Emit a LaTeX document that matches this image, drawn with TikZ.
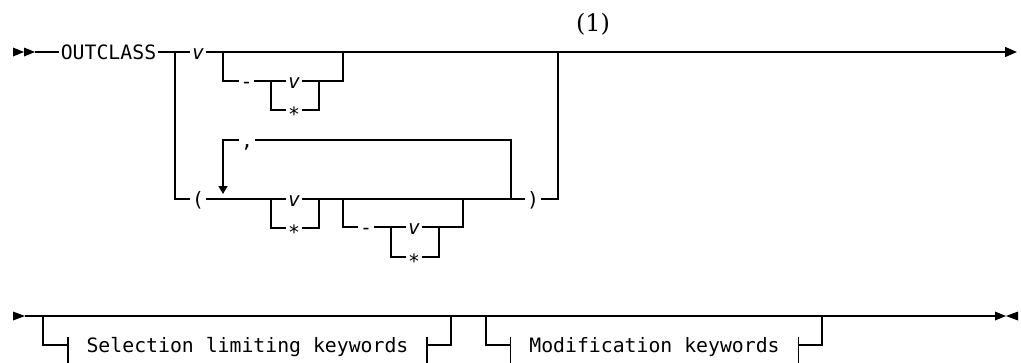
\documentclass[tikz,border=0pt]{standalone}
\usepackage{fontspec}
\setmonofont{DejaVu Sans Mono}
\newfontfamily\notefont{DejaVu Serif}
\usetikzlibrary{arrows.meta}
\tikzset{
  rail/.style={line width=1.4pt},
  tok/.style={font=\ttfamily\fontsize{19.8}{20}\selectfont, inner xsep=1.5pt, inner ysep=0pt, text height=14.4pt, text depth=0pt},
  var/.style={tok, font=\ttfamily\itshape\fontsize{19.8}{20}\selectfont},
  frag/.style={tok, inner xsep=18.5pt},
  endtip/.style={-{Triangle[length=12pt,width=10pt]}},
  looptip/.style={-{Triangle[length=8pt,width=9pt]}},
  notestyle/.style={font=\notefont\fontsize{24}{26}\selectfont, inner sep=0pt}
}
\newcommand{\railstar}{\raisebox{-4.5pt}{*}}
\begin{document}
\begin{tikzpicture}[x=1pt,y=-1pt]
\useasboundingbox (0,0) rectangle (1021,362);
\clip (0,0) rectangle (1021,362);
% ---------- row 1 ----------
\fill (13,47.5) -- (24,52) -- (13,56.5) -- cycle;
\fill (24,47.5) -- (35,52) -- (24,56.5) -- cycle;
\coordinate (A0) at (35,52);
\node[tok] (kw) at (108.5,52) {OUTCLASS};
\coordinate (J1) at (175,52);
\node[var] (v1) at (198,52) {v};
\coordinate (J2) at (223,52);
\coordinate (J6) at (343,52);
\coordinate (J7) at (558,52);
\coordinate (E1) at (1017,52);
\node[notestyle] (note) at (593,24) {(1)};
\draw[rail] (A0) -- (kw.west);
\draw[rail] (kw.east) -- (J1);
\draw[rail] (J1) -- (v1.west);
\draw[rail,endtip] (v1.east) -- (E1);
% optional - v|*
\node[tok] (d1) at (246.5,81) {-};
\node[var] (v2) at (294,81) {v};
\node[tok] (s1) at (294,110) {\railstar};
\coordinate (J3) at (271,81);
\coordinate (J4) at (319,81);
\coordinate (J5) at (343,81);
\draw[rail] (J2) |- (d1.west);
\draw[rail] (d1.east) -- (v2.west);
\draw[rail] (v2.east) -- (J5) -- (J6);
\draw[rail] (J3) |- (s1.west);
\draw[rail] (s1.east) -| (J4);
% lower branch
\node[tok] (lp) at (198,199) {(};
\node[var] (v3) at (294,199) {v};
\node[tok] (s2) at (294,228) {\railstar};
\node[tok] (d2) at (366,227) {-};
\node[var] (v4) at (414,227) {v};
\node[tok] (s3) at (414,257) {\railstar};
\node[tok] (rp) at (533,199) {)};
\node[tok] (comma) at (247,140) {,};
\coordinate (L1) at (223,194);
\coordinate (L2) at (271,199);
\coordinate (L3) at (319,199);
\coordinate (L4) at (343,199);
\coordinate (L5) at (391,227);
\coordinate (L6) at (439,227);
\coordinate (L7) at (463,227);
\coordinate (L8) at (463,199);
\coordinate (L9) at (511,199);
\coordinate (L10) at (558,199);
\draw[rail] (J1) |- (lp.west);
\draw[rail] (lp.east) -- (v3.west);
\draw[rail] (v3.east) -- (rp.west);
\draw[rail] (rp.east) -- (L10) -- (J7);
\draw[rail] (L2) |- (s2.west);
\draw[rail] (s2.east) -| (L3);
\draw[rail] (L4) |- (d2.west);
\draw[rail] (d2.east) -- (v4.west);
\draw[rail] (v4.east) -- (L7) -- (L8);
\draw[rail] (L5) |- (s3.west);
\draw[rail] (s3.east) -| (L6);
\draw[rail] (L9) |- (comma.east);
\draw[rail,looptip] (comma.west) -| (L1);
% ---------- row 2 ----------
\fill (13,311.5) -- (25,316) -- (13,320.5) -- cycle;
\coordinate (R0) at (25,316);
\coordinate (R1) at (995,316);
\draw[rail] (R0) -- (R1);
\draw[line width=2.6pt] (827,316) -- (851,316);
\fill (995,311.5) -- (1006,316) -- (995,320.5) -- cycle;
\fill (1018,311.5) -- (1006,316) -- (1018,320.5) -- cycle;
\node[frag] (sel) at (247.5,345) {Selection limiting keywords};
\node[frag] (mod) at (654.5,345) {Modification keywords};
\coordinate (B1) at (43,316);
\coordinate (B2) at (451,316);
\coordinate (B3) at (486,316);
\coordinate (B4) at (822,316);
\draw[rail] (B1) |- (sel.west);
\draw[rail] (sel.east) -| (B2);
\draw[rail] (B3) |- (mod.west);
\draw[rail] (mod.east) -| (B4);
\foreach \n in {sel,mod}{
  \draw[rail] ([yshift=8pt]\n.west) -- ([yshift=-22pt]\n.west);
  \draw[rail] ([yshift=8pt]\n.east) -- ([yshift=-22pt]\n.east);
}
\end{tikzpicture}
\end{document}
